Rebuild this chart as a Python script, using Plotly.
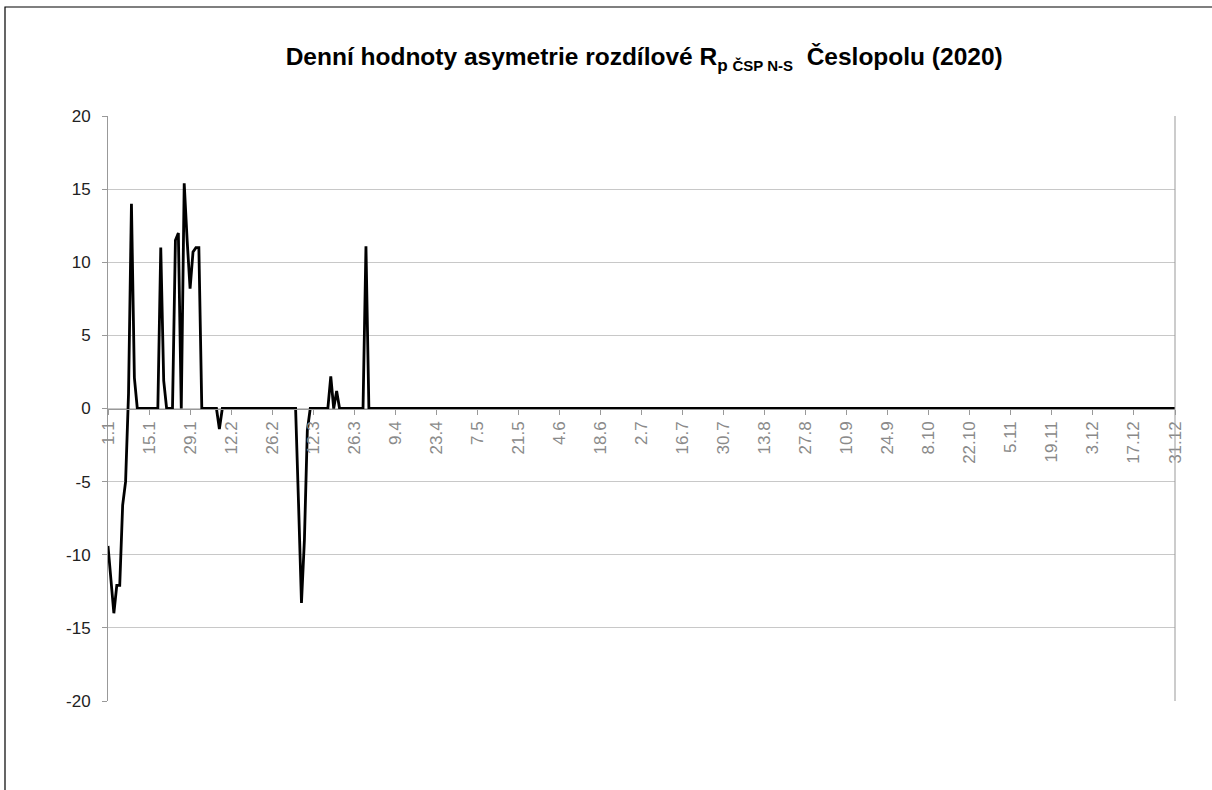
import plotly.graph_objects as go

# Day index (0 = 1.1) and daily values; days not listed are 0
n_days = 365
event_days = [0, 1, 2, 3, 4, 5, 6, 7, 8, 9,
              17, 18, 19,
              22, 23, 24, 25, 26, 27, 28, 29, 30, 31,
              38,
              65, 66, 67, 68,
              76, 77, 78,
              88]
event_values = [-9.4, -11.8, -14.0, -12.1, -12.1, -6.6, -5.0, 1.0, 14.0, 2.1,
                0.0, 11.0, 1.9,
                0.0, 11.5, 12.0, 0.0, 15.4, 11.5, 8.2, 10.7, 11.0, 11.0,
                -1.4,
                -6.5, -13.3, -9.0, -1.5,
                2.2, 0.0, 1.2,
                11.1]

tick_days = list(range(0, 365, 14))
tick_labels = ["1.1", "15.1", "29.1", "12.2", "26.2", "12.3", "26.3", "9.4", "23.4",
               "7.5", "21.5", "4.6", "18.6", "2.7", "16.7", "30.7", "13.8", "27.8",
               "10.9", "24.9", "8.10", "22.10", "5.11", "19.11", "3.12", "17.12", "31.12"]

y_tick_vals = [-20, -15, -10, -5, 0, 5, 10, 15, 20]
y_tick_text = ["-20", "-15", "-10", "-5", "0", "5", "10", "15", "20"]

values = [0.0] * n_days
for d, v in zip(event_days, event_values):
    values[d] = v
days = list(range(n_days))

fig = go.Figure()
fig.add_trace(go.Scatter(x=days, y=values, mode="lines",
                         line=dict(color="black", width=2.8), showlegend=False,
                         hoverinfo="skip"))

FONT = "Liberation Sans, Arial, sans-serif"
fig.update_layout(
    width=1212, height=790,
    paper_bgcolor="white", plot_bgcolor="white",
    margin=dict(l=108, r=37, t=116, b=89),
    font=dict(family=FONT, color="#222"),
    title=dict(
        text="<b>Denní hodnoty asymetrie rozdílové R<sub>p <span style='font-size:15px'>ČSP N-S</span></sub>  Česlopolu (2020)</b>",
        x=0.5315, xanchor="center", y=0.928, yanchor="middle",
        font=dict(size=24.5, color="black", family=FONT),
    ),
    xaxis=dict(
        range=[0, 364], tickvals=tick_days, ticktext=tick_labels,
        tickangle=-90, ticks="outside", ticklen=5, tickcolor="#999",
        showline=True, linecolor="#999", linewidth=1,
        showgrid=False, zeroline=False,
        anchor="free", position=0.5,
        tickfont=dict(size=17, color="#8a8a8a"),
    ),
    yaxis=dict(
        range=[-20, 20], tickvals=y_tick_vals, ticktext=y_tick_text,
        ticks="outside", ticklen=5, tickcolor="#999",
        showline=True, linecolor="#999", linewidth=1,
        showgrid=True, gridcolor="#c8c8c8", gridwidth=1,
        zeroline=False, ticklabelstandoff=8,
        tickfont=dict(size=17, color="#222"),
    ),
    shapes=[
        dict(type="line", xref="paper", yref="paper", x0=1, x1=1, y0=0, y1=1,
             line=dict(color="#999", width=1)),
        dict(type="rect", xref="paper", yref="paper",
             x0=-103 / 1067, x1=1.1, y0=-1.0, y1=1 + 109 / 585,
             line=dict(color="black", width=1.2), fillcolor="rgba(0,0,0,0)"),
    ],
)

fig.write_html("out.html", config={"displayModeBar": False},
               post_script="document.body.style.margin='0px';")
